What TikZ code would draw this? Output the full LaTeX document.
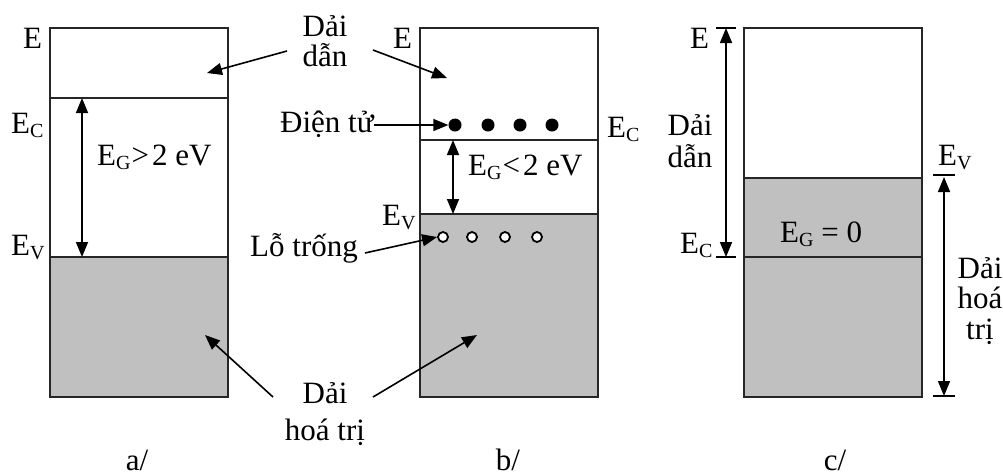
\documentclass[tikz,border=0pt]{standalone}
\usepackage{fontspec}
\setmainfont{Liberation Serif}
\usetikzlibrary{arrows.meta}
\definecolor{bandgray}{RGB}{192,192,192}
\newcommand\lowsub[1]{\raisebox{-0.3ex}{\fontsize{20}{20}\selectfont #1}}
\begin{document}
\begin{tikzpicture}[x=1pt,y=-1pt,
  boxline/.style={line width=2pt, draw=black!85},
  lbl/.style={inner sep=0pt, font=\fontsize{31}{35}\selectfont},
  arr/.style={line width=1.6pt, -{Triangle[length=15pt,width=12pt]}},
  darr/.style={line width=1.6pt, {Triangle[length=15pt,width=12pt]}-{Triangle[length=15pt,width=12pt]}},
  tick/.style={line width=1.8pt},
  edot/.style={circle, fill=black, inner sep=0pt, minimum size=13pt},
  hdot/.style={circle, draw=black, fill=white, line width=1.8pt, inner sep=0pt, minimum size=10pt}]
\useasboundingbox (0,0) rectangle (1003,475);

% ---------- box a ----------
\fill[bandgray] (50,257) rectangle (228,397);
\draw[boxline] (50,28) rectangle (228,397);
\draw[boxline] (50,98) -- (228,98);
\draw[boxline] (50,257) -- (228,257);
\coordinate (aC) at (82,98);
\coordinate (aV) at (82,257);
\draw[darr] (aC) -- (aV);
\node[lbl, anchor=base west] (aE) at (23,48) {E};
\node[lbl, anchor=base west] (aEC) at (11,133) {E\lowsub{C}};
\node[lbl, anchor=base west] (aEV) at (11,255) {E\lowsub{V}};
\node[lbl, anchor=base west] (aEG) at (97,165) {E\lowsub{G}\kern1pt>\kern3pt2 eV};

% ---------- box b ----------
\fill[bandgray] (420,214) rectangle (598,397);
\draw[boxline] (420,28) rectangle (598,397);
\draw[boxline] (420,140) -- (598,140);
\draw[boxline] (420,214) -- (598,214);
\coordinate (bC) at (453,140);
\coordinate (bV) at (453,214);
\draw[darr] (bC) -- (bV);
\node[lbl, anchor=base west] (bE) at (393,48) {E};
\node[lbl, anchor=base west] (bEC) at (607,137) {E\lowsub{C}};
\node[lbl, anchor=base west] (bEV) at (382,225) {E\lowsub{V}};
\node[lbl, anchor=base west] (bEG) at (468,175) {E\lowsub{G}\kern1pt<\kern3pt2 eV};
\foreach \x [count=\i] in {455,488,520,552} \node[edot] (e\i) at (\x,125) {};
\foreach \x [count=\i] in {443,472,505,537} \node[hdot] (h\i) at (\x,237) {};

% ---------- shared labels ----------
\node[lbl, anchor=base] (dd1) at (325,36) {Dải};
\node[lbl, anchor=base] (dd2) at (325,66) {dẫn};
\coordinate (ddL) at (287,51);
\coordinate (ddR) at (373,50);
\coordinate (ddLt) at (207,73);
\coordinate (ddRt) at (447,78);
\draw[arr] (ddL) -- (ddLt);
\draw[arr] (ddR) -- (ddRt);

\node[lbl, anchor=base west] (dt) at (280,132) {Điện tử};
\draw[arr] (dt.east |- e1) -- (e1.west);

\node[lbl, anchor=base west] (lt) at (250,256) {Lỗ trống};
\coordinate (ltS) at (365,253);
\draw[arr] (ltS) -- (h1.west);

\node[lbl, anchor=base] (ht1) at (325,403) {Dải};
\node[lbl, anchor=base] (ht2) at (325,440) {hoá trị};
\coordinate (htL) at (273,397);
\coordinate (htR) at (373,397);
\coordinate (htLt) at (205,335);
\coordinate (htRt) at (477,335);
\draw[arr] (htL) -- (htLt);
\draw[arr] (htR) -- (htRt);

% ---------- box c ----------
\fill[bandgray] (744,178) rectangle (922,397);
\draw[boxline] (744,28) rectangle (922,397);
\draw[boxline] (744,178) -- (922,178);
\draw[boxline] (744,257) -- (922,257);
\coordinate (cT) at (726,28);
\coordinate (cB) at (726,257);
\draw[tick] (716,28) -- (736,28);
\draw[tick] (716,257) -- (736,257);
\draw[darr] (cT) -- (cB);
\coordinate (cT2) at (944,177);
\coordinate (cB2) at (944,396);
\draw[tick] (933,175) -- (955,175);
\draw[tick] (933,396) -- (955,396);
\draw[darr] (cT2) -- (cB2);
\node[lbl, anchor=base west] (cE) at (690,48) {E};
\node[lbl, anchor=base west] (cEC) at (680,253) {E\lowsub{C}};
\node[lbl, anchor=base west] (cEV) at (938,165) {E\lowsub{V}};
\node[lbl, anchor=base west] (cEG) at (780,242) {E\lowsub{G} = 0};
\node[lbl, anchor=base] (cd1) at (690,135) {Dải};
\node[lbl, anchor=base] (cd2) at (690,167) {dẫn};
\node[lbl, anchor=base] (ch1) at (980,278) {Dải};
\node[lbl, anchor=base] (ch2) at (980,308) {hoá};
\node[lbl, anchor=base] (ch3) at (980,339) {trị};

% ---------- captions ----------
\node[lbl, anchor=base] (capa) at (137,470) {a/};
\node[lbl, anchor=base] (capb) at (508,470) {b/};
\node[lbl, anchor=base] (capc) at (835,470) {c/};
\end{tikzpicture}
\end{document}
